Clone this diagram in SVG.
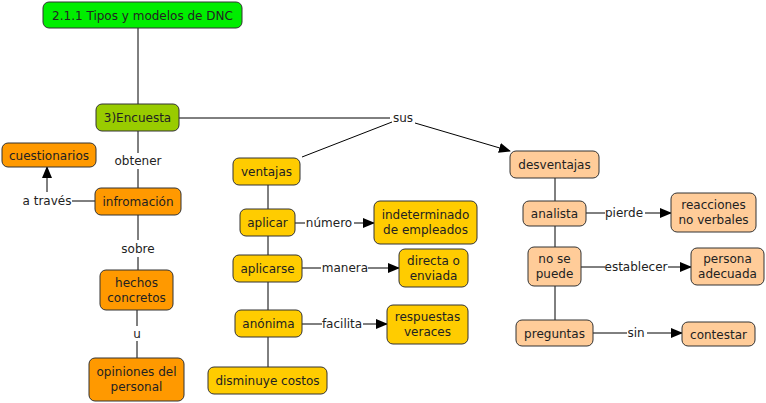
<svg xmlns="http://www.w3.org/2000/svg" width="766" height="403" viewBox="0 0 766 403">
<defs>
<marker id="ar" markerWidth="12" markerHeight="10" refX="11" refY="5" orient="auto" markerUnits="userSpaceOnUse"><path d="M0,0 L12,5 L0,10 Z" fill="#000"/></marker>
<style>
rect{stroke:#333;stroke-width:1;}
.t{font-family:"DejaVu Sans",Verdana,sans-serif;font-size:12px;fill:#222;text-anchor:middle;}
.l{font-family:"DejaVu Sans",Verdana,sans-serif;font-size:12px;fill:#222;text-anchor:middle;}
.c line,.c polyline{stroke:#000;stroke-width:1;fill:none;}
.g{fill:#00ee00}.e{fill:#99cc00}.o{fill:#ff9900}.y{fill:#ffcc00}.p{fill:#ffcc99}
</style>
</defs>
<rect width="766" height="403" fill="#fff" style="stroke:none"/>
<g class="c">
<line x1="138" y1="28" x2="138" y2="104"/>
<line x1="179" y1="118" x2="390" y2="118"/>
<line x1="302" y1="157" x2="392" y2="122"/>
<line x1="415" y1="123" x2="510" y2="151" marker-end="url(#ar)"/>
<line x1="138" y1="131" x2="138" y2="153"/>
<line x1="138" y1="169" x2="138" y2="188"/>
<line x1="72" y1="201" x2="95" y2="201"/>
<line x1="47" y1="192" x2="47" y2="167" marker-end="url(#ar)"/>
<line x1="138" y1="215" x2="138" y2="240"/>
<line x1="138" y1="257" x2="138" y2="270"/>
<line x1="137" y1="310" x2="137" y2="326"/>
<line x1="137" y1="341" x2="137" y2="358"/>
<line x1="268" y1="185" x2="268" y2="209"/>
<line x1="268" y1="236" x2="268" y2="255"/>
<line x1="268" y1="282" x2="268" y2="310"/>
<line x1="268" y1="337" x2="268" y2="367"/>
<line x1="295" y1="223" x2="305" y2="223"/>
<line x1="354" y1="223" x2="374" y2="223" marker-end="url(#ar)"/>
<line x1="302" y1="268" x2="321" y2="268"/>
<line x1="368" y1="268" x2="399" y2="268" marker-end="url(#ar)"/>
<line x1="302" y1="324" x2="322" y2="324"/>
<line x1="363" y1="324" x2="387" y2="324" marker-end="url(#ar)"/>
<line x1="555" y1="178" x2="555" y2="201"/>
<line x1="555" y1="226" x2="555" y2="247"/>
<line x1="555" y1="286" x2="555" y2="320"/>
<line x1="586" y1="213" x2="605" y2="213"/>
<line x1="645" y1="213" x2="671" y2="213" marker-end="url(#ar)"/>
<line x1="581" y1="267" x2="605" y2="267"/>
<line x1="668" y1="267" x2="691" y2="267" marker-end="url(#ar)"/>
<line x1="593" y1="333" x2="627" y2="333"/>
<line x1="647" y1="333" x2="682" y2="333" marker-end="url(#ar)"/>
<text class="l" x="403" y="122">sus</text>
<text class="l" x="138" y="165">obtener</text>
<text class="l" x="47" y="205">a través</text>
<text class="l" x="138" y="253">sobre</text>
<text class="l" x="137" y="338">u</text>
<text class="l" x="329" y="227">número</text>
<text class="l" x="345" y="272">manera</text>
<text class="l" x="342" y="328">facilita</text>
<text class="l" x="624" y="217">pierde</text>
<text class="l" x="636" y="271">establecer</text>
<text class="l" x="636" y="337">sin</text>
</g>
<g id="n-title"><rect class="g" x="43" y="2" width="199" height="26" rx="6"/><text class="t" x="142.5" y="19.5">2.1.1 Tipos y modelos de DNC</text></g>
<g id="n-encuesta"><rect class="e" x="96" y="104" width="83" height="27" rx="6"/><text class="t" x="137.5" y="122">3)Encuesta</text></g>
<g id="n-cuestionarios"><rect class="o" x="2" y="143" width="94" height="24" rx="6"/><text class="t" x="49" y="159.5">cuestionarios</text></g>
<g id="n-infromacion"><rect class="o" x="95" y="188" width="86" height="27" rx="6"/><text class="t" x="138" y="206">infromación</text></g>
<g id="n-hechos"><rect class="o" x="100" y="270" width="73" height="40" rx="6"/><text class="t" x="136.5" y="287">hechos</text><text class="t" x="136.5" y="301.5">concretos</text></g>
<g id="n-opiniones"><rect class="o" x="89" y="358" width="95" height="43" rx="6"/><text class="t" x="136.5" y="376">opiniones del</text><text class="t" x="136.5" y="391">personal</text></g>
<g id="n-ventajas"><rect class="y" x="233" y="158" width="67" height="27" rx="6"/><text class="t" x="266.5" y="176">ventajas</text></g>
<g id="n-aplicar"><rect class="y" x="240" y="209" width="55" height="27" rx="6"/><text class="t" x="267.5" y="227">aplicar</text></g>
<g id="n-indeterminado"><rect class="y" x="374" y="201" width="103" height="43" rx="6"/><text class="t" x="425.5" y="219">indeterminado</text><text class="t" x="425.5" y="234">de empleados</text></g>
<g id="n-aplicarse"><rect class="y" x="233" y="255" width="69" height="27" rx="6"/><text class="t" x="267.5" y="273">aplicarse</text></g>
<g id="n-directa"><rect class="y" x="399" y="249" width="69" height="38" rx="6"/><text class="t" x="433.5" y="265">directa o</text><text class="t" x="433.5" y="280">enviada</text></g>
<g id="n-anonima"><rect class="y" x="235" y="310" width="67" height="27" rx="6"/><text class="t" x="268.5" y="328">anónima</text></g>
<g id="n-respuestas"><rect class="y" x="387" y="305" width="81" height="39" rx="6"/><text class="t" x="427.5" y="321">respuestas</text><text class="t" x="427.5" y="336">veraces</text></g>
<g id="n-disminuye"><rect class="y" x="208" y="367" width="119" height="27" rx="6"/><text class="t" x="267.5" y="385">disminuye costos</text></g>
<g id="n-desventajas"><rect class="p" x="510" y="151" width="89" height="27" rx="6"/><text class="t" x="554.5" y="169">desventajas</text></g>
<g id="n-analista"><rect class="p" x="523" y="201" width="63" height="25" rx="6"/><text class="t" x="554.5" y="218">analista</text></g>
<g id="n-reacciones"><rect class="p" x="671" y="193" width="85" height="39" rx="6"/><text class="t" x="713.5" y="209">reacciones</text><text class="t" x="713.5" y="224">no verbales</text></g>
<g id="n-nosepuede"><rect class="p" x="528" y="247" width="53" height="39" rx="6"/><text class="t" x="554.5" y="263">no se</text><text class="t" x="554.5" y="278">puede</text></g>
<g id="n-persona"><rect class="p" x="691" y="248" width="73" height="37" rx="6"/><text class="t" x="727.5" y="263">persona</text><text class="t" x="727.5" y="278">adecuada</text></g>
<g id="n-preguntas"><rect class="p" x="516" y="320" width="77" height="26" rx="6"/><text class="t" x="554.5" y="337.5">preguntas</text></g>
<g id="n-contestar"><rect class="p" x="682" y="322" width="73" height="24" rx="6"/><text class="t" x="718.5" y="338.5">contestar</text></g>
</svg>
